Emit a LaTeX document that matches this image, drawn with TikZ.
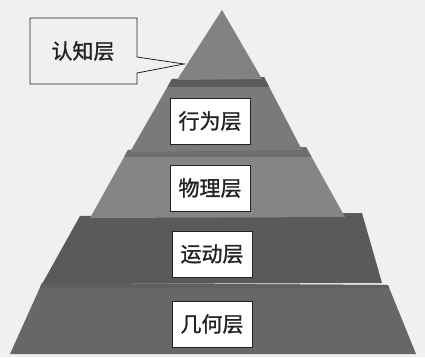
\documentclass[tikz,border=0pt]{standalone}
\usepackage{fontspec}
\newfontfamily\cjk[FakeBold=1.2]{Noto Sans CJK SC}
\definecolor{bg}{HTML}{F0F0F0}
\definecolor{cA}{HTML}{828282}
\definecolor{cB}{HTML}{7A7A7A}
\definecolor{cC}{HTML}{858585}
\definecolor{cD}{HTML}{5A5A5A}
\definecolor{cE}{HTML}{676767}
\definecolor{bandB}{HTML}{5C5C5C}
\definecolor{bandC}{HTML}{6E6E6E}
\definecolor{bandE}{HTML}{606060}
\definecolor{txt}{HTML}{222222}
\begin{document}
\begin{tikzpicture}[x=1pt,y=-1pt,
  lbl/.style={draw=txt,line width=0.8pt,fill=white,minimum width=80pt,minimum height=46pt,inner sep=0pt,font=\cjk\fontsize{21}{23}\selectfont,text=txt},
  callout/.style={font=\cjk\fontsize{21}{23}\selectfont,text=txt,inner sep=0pt}]
\useasboundingbox (0,0) rectangle (425,357);
\fill[bg] (0,0) rectangle (425,357);
% layer 5 (bottom)
\fill[cE] (42,283) -- (388,285) -- (416,354) -- (10,354) -- cycle;
\begin{scope}
\clip (42,283) -- (388,285) -- (416,354) -- (10,354) -- cycle;
\fill[bandE] (0,283) rectangle (425,288);
\end{scope}
% layer 4
\fill[cD] (80,216) -- (362,213) -- (382,283) -- (42,284) -- cycle;
% layer 3
\fill[cC] (128,150) -- (306,147) -- (345,217) -- (90,218) -- cycle;
\begin{scope}
\clip (128,150) -- (306,147) -- (345,217) -- (90,218) -- cycle;
\fill[bandC] (0,146) rectangle (425,157);
\end{scope}
% layer 2
\fill[cB] (172,79) -- (264,77) -- (302,150) -- (130,152) -- cycle;
\begin{scope}
\clip (172,79) -- (264,77) -- (302,150) -- (130,152) -- cycle;
\fill[bandB] (0,76) rectangle (425,87);
\end{scope}
% layer 1 (top)
\fill[cA] (222,10) -- (262,79) -- (177,80) -- cycle;
% labels
\node[lbl] (l2) at (210,121) {行为层};
\node[lbl] (l3) at (210,188) {物理层};
\node[lbl] (l4) at (212,254) {运动层};
\node[lbl] (l5) at (212,324) {几何层};
% callout
\coordinate (tip) at (184,64);
\draw[txt,line width=0.8pt,fill=bg] (30,18) -- (137,18) -- (137,57) -- (tip) -- (137,73) -- (137,84) -- (30,84) -- cycle;
\node[callout] (l1) at (83,51) {认知层};
\end{tikzpicture}
\end{document}
